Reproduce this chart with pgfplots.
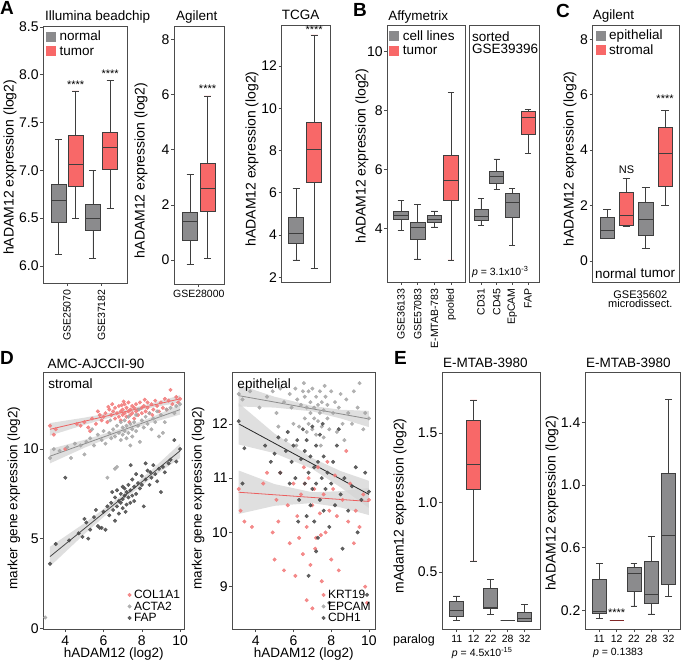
\documentclass[border=0pt]{standalone}
\usepackage{fontspec}
\setmainfont{Liberation Sans}
\usepackage{pgfplots}
\pgfplotsset{compat=1.18}
\usepgfplotslibrary{statistics}
\definecolor{boxgray}{RGB}{139,139,141}
\definecolor{boxred}{RGB}{248,104,104}
\definecolor{ptred}{RGB}{242,120,120}
\definecolor{ptlight}{RGB}{165,165,165}
\definecolor{ptdark}{RGB}{72,72,72}
\definecolor{lnred}{RGB}{235,95,95}
\definecolor{lngray}{RGB}{140,140,140}
\definecolor{band}{RGB}{212,212,212}
\definecolor{edge}{RGB}{62,62,62}
\definecolor{darkred}{RGB}{130,40,40}
\newcommand{\fs}[1]{\fontsize{#1}{#1}\selectfont}
\newcommand{\bx}[7]{\addplot[#7, boxplot prepared={draw direction=y, draw position=#1, lower whisker=#2, lower quartile=#3, median=#4, upper quartile=#5, upper whisker=#6}] coordinates {};}
\tikzset{
 ttl/.style={anchor=base west, font=\fs{13.5}, inner sep=0pt, yshift=5pt},
 stars/.style={font=\fs{11}, inner sep=0pt},
}
\pgfplotsset{
 base/.style={scale only axis, anchor=north west, clip=false,
   axis line style={draw=black!70, line width=0.7pt},
   tick style={black!70, line width=0.6pt}, tick align=outside, major tick length=3pt, tick pos=left,
   /pgf/number format/assume math mode=true,
   tick label style={font=\fs{14}}, yticklabel style={inner sep=1.5pt},
   ylabel style={font=\fs{14}, anchor=center},
   boxplot/draw direction=y,
   boxplot/whisker extend=0.4,
   boxplot/every median/.style={line width=1pt}},
 gbox/.style={fill=boxgray, draw=edge, line width=0.6pt, forget plot},
 rbox/.style={fill=boxred, draw=edge, line width=0.6pt, forget plot},
 sqgray/.style={legend image code/.code={\path[fill=boxgray, draw=none] (0pt,-4.5pt) rectangle (10pt,5.5pt);}},
 sqred/.style={legend image code/.code={\path[fill=boxred, draw=none] (0pt,-4.5pt) rectangle (10pt,5.5pt);}},
 dotleg/.style={legend image code/.code={\fill (3pt,0pt) circle (1.8pt);}},
 sqlegend/.style={legend style={at={(#1)}, anchor=north west, draw=none, fill=none, inner sep=0pt,
   font=\fs{13.5}, nodes={inner sep=0.8pt, text height=10pt, text depth=3pt},
   /tikz/every odd column/.append style={column sep=2.5pt}}, legend cell align=left},
 dlegend/.style={legend style={at={(0.975,0.02)}, anchor=south east, draw=none, fill=none, inner sep=0pt,
   font=\fs{12}, nodes={inner sep=0.5pt, text height=9pt, text depth=1.5pt},
   /tikz/every odd column/.append style={column sep=2pt}}, legend cell align=left},
 rotxt/.style={x tick label style={rotate=90, anchor=east, font=\fs{10.5}}},
 pts/.style={only marks, mark=*, mark size=1.8pt, opacity=0.85, dotleg},
 bnd/.style={fill=band, draw=none, opacity=0.75, forget plot},
}
\begin{document}
\begin{tikzpicture}
\path[use as bounding box] (0pt,0pt) rectangle (685pt,-663pt);
% panel letters
\node[anchor=north west, inner sep=0pt, font=\bfseries\fs{19}] at (0pt,-1pt) {A};
\node[anchor=north west, inner sep=0pt, font=\bfseries\fs{19}] at (353pt,-3pt) {B};
\node[anchor=north west, inner sep=0pt, font=\bfseries\fs{19}] at (556pt,-4pt) {C};
\node[anchor=north west, inner sep=0pt, font=\bfseries\fs{19}] at (0pt,-351pt) {D};
\node[anchor=north west, inner sep=0pt, font=\bfseries\fs{19}] at (394pt,-351pt) {E};

% ---------- A1 Illumina
\begin{axis}[base, at={(43.3pt,-26pt)}, width=83.7pt, height=257pt,
 xmin=0.13, xmax=4.98, ymin=5.82, ymax=8.51,
 ytick={6,6.5,7,7.5,8,8.5}, yticklabels={6.0,6.5,7.0,7.5,8.0,8.5},
 xtick={1.5,3.5}, xticklabels={GSE25070,GSE37182}, rotxt,
 ylabel={hADAM12 expression (log2)}, ylabel style={at={(axis description cs:-0.398,0.45)}},
 boxplot/box extend=0.87, sqlegend={0.035,0.985}]
\addlegendimage{sqgray}\addlegendentry{normal}
\addlegendimage{sqred}\addlegendentry{tumor}
\bx{1}{6.12}{6.46}{6.68}{6.85}{7.32}{gbox}
\bx{2}{6.50}{6.83}{7.06}{7.37}{7.83}{rbox}
\bx{3}{6.08}{6.37}{6.50}{6.64}{7.00}{gbox}
\bx{4}{6.60}{7.01}{7.24}{7.40}{7.94}{rbox}
\node[stars] at (axis cs:2,7.90) {****};
\node[stars] at (axis cs:4,8.01) {****};
\node[ttl] at (axis description cs:0.02,1) {Illumina beadchip};
\end{axis}

% ---------- A2 Agilent
\begin{axis}[base, at={(174pt,-26pt)}, width=50pt, height=258pt,
 xmin=0.086, xmax=2.94, ymin=-0.87, ymax=8.48,
 ytick={0,2,4,6,8}, xtick={1.5}, xticklabels={GSE28000}, x tick label style={font=\fs{10.5}},
 ylabel={hADAM12 expression (log2)}, ylabel style={at={(axis description cs:-0.66,0.44)}},
 boxplot/box extend=0.86]
\bx{1}{-0.15}{0.70}{1.41}{1.74}{3.11}{gbox}
\bx{2}{0.05}{1.76}{2.59}{3.50}{5.95}{rbox}
\node[stars] at (axis cs:2,6.2) {****};
\node[ttl] at (axis description cs:0.04,1) {Agilent};
\end{axis}

% ---------- A3 TCGA
\begin{axis}[base, at={(281.7pt,-25pt)}, width=48.3pt, height=257.7pt,
 xmin=0.19, xmax=2.88, ymin=1.74, ymax=13.94,
 ytick={2,4,6,8,10,12}, xtick=\empty,
 ylabel={hADAM12 expression (log2)}, ylabel style={at={(axis description cs:-0.615,0.48)}},
 boxplot/box extend=0.83]
\bx{1}{2.82}{3.61}{4.08}{4.84}{6.20}{gbox}
\bx{2}{2.41}{6.51}{8.06}{9.32}{13.47}{rbox}
\node[stars] at (axis cs:2,13.72) {****};
\node[ttl] at (axis description cs:0,1) {TCGA};
\end{axis}

% ---------- B1 Affymetrix
\begin{axis}[base, at={(387.3pt,-25.3pt)}, width=78pt, height=256.7pt,
 xmin=0.18, xmax=4.85, ymin=2.19, ymax=10.89,
 ytick={4,6,8,10}, xtick={1,2,3,4}, xticklabels={GSE36133,GSE57083,E-MTAB-783,pooled}, rotxt,
 ylabel={hADAM12 expression (log2)}, ylabel style={at={(axis description cs:-0.324,0.49)}},
 boxplot/box extend=0.88, sqlegend={0.025,0.985}]
\addlegendimage{sqgray}\addlegendentry{cell lines}
\addlegendimage{sqred}\addlegendentry{tumor}
\bx{1}{3.94}{4.32}{4.46}{4.60}{4.96}{gbox}
\bx{2}{2.97}{3.64}{4.02}{4.22}{4.83}{gbox}
\bx{3}{4.06}{4.20}{4.32}{4.44}{4.60}{gbox}
\bx{4}{2.94}{4.97}{5.64}{6.47}{8.62}{rbox}
\node[ttl] at (axis description cs:0.01,1) {Affymetrix};
\end{axis}

% ---------- B2 sorted
\begin{axis}[base, at={(469pt,-25.3pt)}, width=70.3pt, height=256.7pt,
 xmin=0.236, xmax=4.72, ymin=2.19, ymax=10.89,
 ytick=\empty, xtick={1,2,3,4}, xticklabels={CD31,CD45,EpCAM,FAP}, rotxt,
 boxplot/box extend=0.9]
\bx{1}{4.10}{4.28}{4.41}{4.67}{5.02}{gbox}
\bx{2}{5.34}{5.54}{5.75}{5.93}{6.36}{gbox}
\bx{3}{3.44}{4.37}{4.88}{5.19}{5.37}{gbox}
\bx{4}{6.55}{7.18}{7.78}{7.97}{8.03}{rbox}
\node[anchor=north west, align=left, font=\fs{13.5}, inner sep=0pt] at (axis description cs:0.04,0.975) {sorted\\[-1.5pt]GSE39396};
\node[anchor=base west, font=\fs{10.5}, inner sep=0pt] at (axis description cs:0.04,0.025) {\textit{p} = 3.1x10\textsuperscript{-3}};
\end{axis}

% ---------- C Agilent microdissect
\begin{axis}[base, at={(592.7pt,-25pt)}, width=86.6pt, height=257.7pt,
 xmin=0.25, xmax=4.74, ymin=-0.79, ymax=8.52,
 ytick={0,2,4,6,8}, xtick=\empty,
 ylabel={hADAM12 expression (log2)}, ylabel style={at={(axis description cs:-0.262,0.48)}},
 boxplot/box extend=0.74, sqlegend={0.035,0.985}]
\addlegendimage{sqgray}\addlegendentry{epithelial}
\addlegendimage{sqred}\addlegendentry{stromal}
\bx{1}{0.83}{0.83}{1.11}{1.59}{1.87}{gbox}
\bx{2}{1.23}{1.27}{1.63}{2.46}{2.99}{rbox}
\bx{3}{0.45}{0.92}{1.51}{2.10}{2.65}{gbox}
\bx{4}{2.01}{2.69}{3.88}{4.84}{5.43}{rbox}
\node[font=\fs{11}, inner sep=0pt] at (axis cs:2,3.30) {NS};
\node[stars] at (axis cs:4,5.85) {****};
\node[font=\fs{13.5}, inner sep=0pt] at (axis cs:1.44,-0.45) {normal};
\node[font=\fs{13.5}, inner sep=0pt] at (axis cs:3.63,-0.45) {tumor};
\node[ttl] at (axis description cs:0.0,1) {Agilent};
\node[anchor=north, align=center, font=\fs{11}, inner sep=0pt] at (axis description cs:0.55,-0.03) {GSE35602\\[-1.5pt]microdissect.};
\end{axis}

% ---------- D1 stromal
\begin{axis}[base, at={(43.3pt,-372.3pt)}, width=141pt, height=256.7pt,
 xmin=2.85, xmax=10.22, ymin=-0.04, ymax=14.28,
 xtick={4,6,8,10}, ytick={0,5,10},
 xlabel={hADAM12 (log2)}, xlabel style={at={(axis description cs:0.5,-0.097)}, anchor=center, font=\fs{13.5}},
 ylabel={marker gene expression (log2)}, ylabel style={font=\fs{13.5}, at={(axis description cs:-0.208,0.51)}},
 dlegend]
\addplot[bnd] coordinates {(3.2,11.45)(5,11.75)(7,12.15)(8.5,12.545)(10,13.0)(10,12.6)(8.5,12.305)(7,11.95)(5,11.35)(3.2,10.75)};
\addplot[bnd] coordinates {(3.2,10.0)(5,10.51)(7,11.17)(8.5,11.77)(10,12.48)(10,11.92)(8.5,11.47)(7,10.93)(5,10.07)(3.2,9.2)};
\addplot[bnd] coordinates {(3.2,4.55)(5,5.86)(7,7.45)(8.5,8.82)(10,10.3)(10,9.5)(8.5,8.38)(7,7.15)(5,5.26)(3.2,3.45)};
\addplot[pts, ptred] coordinates {(3.2,11.3)(3.4,10.8)(3.5,11.1)(4.0,10.0)(4.6,11.4)(5.0,11.5)(5.2,11.2)(5.4,11.7)(5.6,11.4)(5.8,11.9)(5.9,11.6)(6.0,11.8)(6.1,12.0)(6.2,11.5)(6.3,12.2)(6.4,11.9)(6.5,12.1)(6.6,11.7)(6.6,12.3)(6.7,12.0)(6.8,11.8)(6.8,12.4)(6.9,12.1)(6.9,11.6)(7.0,12.2)(7.0,11.9)(7.1,12.5)(7.1,12.0)(7.2,11.8)(7.2,12.3)(7.3,12.1)(7.3,12.6)(7.4,11.9)(7.4,12.2)(7.5,12.4)(7.5,12.0)(7.6,12.3)(7.6,11.7)(7.7,12.5)(7.7,12.1)(7.8,12.2)(7.8,11.9)(7.9,12.6)(8.0,12.3)(8.0,12.0)(8.1,12.4)(8.2,12.1)(8.3,12.6)(8.3,12.3)(8.4,12.0)(8.5,12.5)(8.6,12.2)(8.7,12.7)(8.8,12.4)(8.9,12.1)(9.0,12.6)(9.1,12.3)(9.2,12.8)(9.3,12.2)(9.5,13.3)(9.6,12.5)(9.8,12.9)(9.9,12.6)(10.0,12.8)(7.05,12.65)(6.45,12.5)(5.3,11.0)(4.8,11.3)(8.55,11.9)(7.35,11.5)(6.25,12.35)(9.4,12.7)(8.15,12.75)(5.7,12.1)(6.95,12.45)};
\addlegendentry{COL1A1}
\addplot[pts, ptlight] coordinates {(2.95,0.6)(3.2,9.5)(3.4,10.0)(3.7,9.9)(4.1,10.1)(4.5,10.3)(4.8,10.2)(5.0,9.7)(5.1,10.4)(5.3,10.6)(5.5,10.2)(5.7,10.8)(5.9,10.5)(6.0,11.0)(6.1,10.3)(6.2,8.4)(6.3,10.9)(6.4,10.6)(6.5,11.1)(6.6,10.7)(6.7,9.0)(6.7,11.3)(6.8,10.9)(6.9,11.5)(6.9,10.5)(7.0,11.2)(7.0,10.8)(7.1,11.6)(7.1,11.0)(7.2,10.6)(7.2,11.3)(7.3,11.8)(7.3,10.9)(7.4,11.4)(7.5,11.1)(7.5,10.7)(7.6,11.5)(7.7,11.0)(7.7,11.9)(7.8,11.3)(7.9,10.4)(8.0,11.6)(8.1,11.2)(8.2,11.8)(8.3,11.4)(8.4,12.0)(8.5,11.1)(8.6,11.7)(8.8,12.1)(8.9,10.7)(9.0,11.9)(9.2,11.5)(9.3,12.2)(9.5,12.3)(9.7,12.0)(9.8,12.4)(10.0,12.5)(6.6,8.9)(7.4,10.2)(8.7,11.5)(5.4,11.1)(9.1,10.9)(6.35,11.6)(7.85,12.2)(4.3,9.5)};
\addlegendentry{ACTA2}
\addplot[pts, ptdark] coordinates {(3.2,3.6)(3.5,4.7)(4.0,8.4)(4.2,4.9)(4.7,5.3)(4.9,5.1)(5.0,6.1)(5.1,5.9)(5.3,5.5)(5.5,6.2)(5.6,6.6)(5.7,5.7)(5.8,5.6)(5.9,5.6)(6.0,6.5)(6.1,5.5)(6.2,6.8)(6.3,6.3)(6.4,7.0)(6.5,6.6)(6.6,6.0)(6.6,7.3)(6.7,6.8)(6.7,7.7)(6.8,7.1)(6.8,6.4)(6.9,7.5)(6.9,7.0)(7.0,7.9)(7.0,7.2)(7.0,6.7)(7.1,7.4)(7.1,7.8)(7.2,6.9)(7.2,7.6)(7.3,7.3)(7.3,8.0)(7.4,7.0)(7.4,7.7)(7.5,7.4)(7.5,8.3)(7.6,7.1)(7.6,7.9)(7.7,8.6)(7.7,7.5)(7.8,8.1)(7.9,7.8)(8.0,8.5)(8.0,8.0)(8.1,6.8)(8.2,8.3)(8.3,8.8)(8.4,8.0)(8.5,8.4)(8.6,9.1)(8.7,8.6)(8.8,8.2)(8.9,8.9)(9.0,7.6)(9.1,9.0)(9.2,8.7)(9.4,9.2)(9.5,9.4)(9.7,10.5)(9.8,9.3)(10.0,10.0)(7.42,9.1)(8.2,9.2)(5.2,5.0)(6.45,7.6)(7.15,6.5)(8.45,8.7)};
\addlegendentry{FAP}
\addplot[lnred, line width=0.8pt, forget plot] coordinates {(3.2,11.1)(10,12.8)};
\addplot[lngray, line width=0.8pt, forget plot] coordinates {(3.2,9.6)(10,12.2)};
\addplot[ptdark, line width=0.8pt, forget plot] coordinates {(3.2,4.0)(10,9.9)};
\node[anchor=north west, font=\fs{13.5}, inner sep=0pt] at (axis description cs:0.035,0.975) {stromal};
\node[anchor=base west, font=\fs{13.5}, inner sep=0pt] at (axis description cs:0.03,1.013) {AMC-AJCCII-90};
\end{axis}

% ---------- D2 epithelial
\begin{axis}[base, at={(232.3pt,-372.3pt)}, width=142.7pt, height=256.7pt,
 xmin=2.76, xmax=10.32, ymin=8.22, ymax=12.95,
 xtick={4,6,8,10}, ytick={9,10,11,12},
 xlabel={hADAM12 (log2)}, xlabel style={at={(axis description cs:0.5,-0.097)}, anchor=center, font=\fs{13.5}},
 ylabel={marker gene expression (log2)}, ylabel style={font=\fs{13.5}, at={(axis description cs:-0.24,0.51)}},
 dlegend]
\addplot[bnd] coordinates {(3.1,12.72)(5,12.50)(7,12.33)(8.5,12.26)(10,12.24)(10,11.94)(8.5,12.10)(7,12.23)(5,12.30)(3.1,12.32)};
\addplot[bnd] coordinates {(3.1,12.38)(5,11.82)(7,11.37)(8.5,11.13)(10,10.95)(10,10.45)(8.5,10.83)(7,11.17)(5,11.46)(3.1,11.62)};
\addplot[bnd] coordinates {(3.1,11.14)(5,10.89)(7,10.74)(8.5,10.76)(10,10.82)(10,10.32)(8.5,10.46)(7,10.54)(5,10.49)(3.1,10.34)};
\addplot[pts, ptred] coordinates {(3.1,10.8)(3.2,10.4)(3.4,10.2)(3.8,10.1)(4.4,10.9)(4.6,11.1)(4.9,10.0)(5.0,9.5)(5.1,10.6)(5.3,11.1)(5.5,9.3)(5.7,10.5)(5.8,9.8)(6.0,10.9)(6.1,9.2)(6.2,10.3)(6.4,10.7)(6.5,9.6)(6.6,10.9)(6.7,8.75)(6.7,10.1)(6.8,11.0)(6.9,9.4)(7.0,10.5)(7.0,8.6)(7.1,10.8)(7.2,9.9)(7.3,11.2)(7.4,10.35)(7.5,9.1)(7.6,10.7)(7.7,10.0)(7.8,11.3)(7.9,10.4)(8.0,9.5)(8.1,10.8)(8.3,10.3)(8.4,9.3)(8.6,10.6)(8.8,11.5)(9.0,10.9)(9.2,9.8)(9.3,10.4)(9.5,10.1)(9.7,10.7)(9.8,9.0)(10.0,10.6)(5.2,10.2)(6.3,9.9)(7.15,9.7)(8.2,11.05)(8.9,10.2)(6.55,11.2)(7.45,9.95)(9.9,8.7)};
\addlegendentry{KRT19}
\addplot[pts, ptlight] coordinates {(3.1,12.55)(3.3,12.45)(3.7,12.6)(4.2,12.3)(4.6,12.5)(4.9,12.6)(5.1,12.2)(5.3,12.65)(5.5,12.4)(5.6,11.7)(5.8,12.55)(5.9,12.3)(6.0,12.0)(6.1,12.65)(6.2,12.45)(6.3,11.95)(6.4,12.35)(6.5,12.6)(6.6,12.1)(6.6,12.5)(6.7,11.85)(6.7,12.3)(6.8,12.6)(6.8,12.0)(6.9,12.4)(6.9,12.2)(7.0,12.65)(7.0,11.9)(7.1,12.3)(7.1,12.1)(7.2,12.5)(7.2,11.8)(7.3,12.35)(7.3,12.05)(7.4,12.6)(7.4,12.2)(7.5,11.95)(7.5,12.4)(7.6,12.25)(7.6,11.75)(7.7,12.5)(7.8,12.1)(7.8,12.35)(7.9,11.9)(8.0,12.6)(8.1,12.2)(8.2,12.4)(8.3,11.85)(8.4,12.3)(8.5,12.55)(8.6,12.0)(8.8,12.45)(8.9,12.2)(9.1,12.0)(9.2,12.6)(9.4,12.3)(9.5,12.75)(9.7,11.9)(9.8,12.2)(10.0,12.1)(6.15,11.6)(7.45,11.6)(5.2,11.95)(8.7,11.7)(6.55,12.75)(7.65,12.7)};
\addlegendentry{EPCAM}
\addplot[pts, ptdark] coordinates {(3.1,12.05)(3.4,11.55)(3.3,10.9)(4.5,11.6)(4.8,11.3)(5.0,11.45)(5.2,11.75)(5.3,11.1)(5.6,11.5)(5.7,11.85)(5.8,10.9)(5.9,11.3)(6.0,11.6)(6.1,11.0)(6.2,11.7)(6.3,10.6)(6.4,11.35)(6.5,11.9)(6.6,10.9)(6.6,11.5)(6.7,10.3)(6.7,11.7)(6.8,11.1)(6.9,10.5)(6.9,11.4)(7.0,11.95)(7.0,10.8)(7.1,11.2)(7.1,10.2)(7.2,11.6)(7.2,10.9)(7.3,11.3)(7.3,9.9)(7.4,10.6)(7.4,11.8)(7.5,11.0)(7.6,10.4)(7.6,11.4)(7.7,10.8)(7.8,11.1)(7.9,10.1)(8.0,10.9)(8.1,11.3)(8.2,10.5)(8.3,11.6)(8.5,10.7)(8.6,9.7)(8.7,11.0)(8.9,10.4)(9.1,10.85)(9.3,11.2)(9.4,10.0)(9.6,10.6)(9.8,11.1)(9.9,8.85)(10.0,10.75)(6.8,9.2)(7.9,8.7)(7.2,9.65)(6.25,10.2)(8.4,11.9)(7.55,12.0)};
\addlegendentry{CDH1}
\addplot[lngray, line width=0.8pt, forget plot] coordinates {(3.1,12.52)(10,12.09)};
\addplot[black!85, line width=0.8pt, forget plot] coordinates {(3.1,12.0)(10,10.7)};
\addplot[lnred, line width=0.8pt, forget plot] coordinates {(3.1,10.74)(10,10.57)};
\node[anchor=north west, font=\fs{13.5}, inner sep=0pt] at (axis description cs:0.035,0.975) {epithelial};
\end{axis}

% ---------- E1 mAdam12
\begin{axis}[base, at={(442pt,-372.7pt)}, width=98pt, height=256.3pt,
 xmin=0.135, xmax=5.9, ymin=0.088, ymax=1.936,
 ytick={0.5,1.0,1.5}, yticklabels={0.5,1.0,1.5},
 xtick={1,2,3,4,5}, xticklabels={11,12,22,28,32}, x tick label style={font=\fs{10.5}},
 ylabel={mAdam12 expression (log2)}, ylabel style={at={(axis description cs:-0.429,0.48)}},
 boxplot/box extend=0.82]
\bx{1}{0.150}{0.183}{0.224}{0.291}{0.327}{gbox}
\bx{2}{0.579}{1.092}{1.272}{1.591}{1.740}{rbox}
\bx{3}{0.193}{0.236}{0.240}{0.380}{0.447}{gbox}
\bx{4}{0.152}{0.152}{0.152}{0.152}{0.152}{gbox}
\bx{5}{0.147}{0.147}{0.162}{0.205}{0.267}{gbox}
\node[ttl] at (axis description cs:0.01,1) {E-MTAB-3980};
\node[font=\fs{12.5}, inner sep=0pt] at (axis description cs:-0.286,-0.043) {paralog};
\node[font=\fs{10.5}, inner sep=0pt] at (axis description cs:0.41,-0.094) {\textit{p} = 4.5x10\textsuperscript{-15}};
\end{axis}

% ---------- E2 hADAM12
\begin{axis}[base, at={(585pt,-372.7pt)}, width=95pt, height=256.3pt,
 xmin=0.17, xmax=5.66, ymin=0.081, ymax=1.716,
 ytick={0.2,0.6,1.0,1.4}, yticklabels={0.2,0.6,1.0,1.4},
 xtick={1,2,3,4,5}, xticklabels={11,12,22,28,32}, x tick label style={font=\fs{10.5}},
 ylabel={hADAM12 expression (log2)}, ylabel style={at={(axis description cs:-0.347,0.49)}},
 boxplot/box extend=0.8]
\bx{1}{0.149}{0.181}{0.191}{0.398}{0.500}{gbox}
\bx{2}{0.138}{0.138}{0.138}{0.138}{0.138}{fill=darkred, draw=darkred, line width=1pt, forget plot}
\bx{3}{0.228}{0.319}{0.436}{0.474}{0.500}{gbox}
\bx{4}{0.177}{0.245}{0.298}{0.511}{0.670}{gbox}
\bx{5}{0.287}{0.366}{0.677}{1.074}{1.547}{gbox}
\node[stars] at (axis cs:2,0.185) {****};
\node[ttl] at (axis description cs:0.01,1) {E-MTAB-3980};
\node[font=\fs{10.5}, inner sep=0pt] at (axis description cs:0.347,-0.094) {\textit{p} = 0.1383};
\end{axis}
\end{tikzpicture}
\end{document}
